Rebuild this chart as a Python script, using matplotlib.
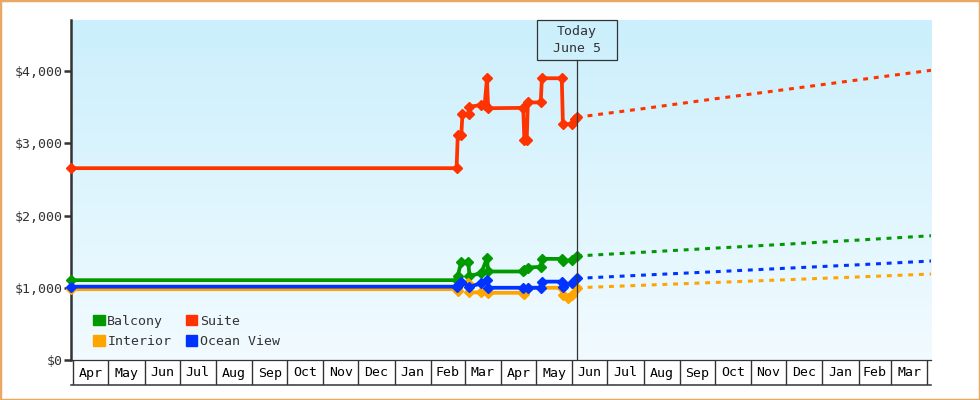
import matplotlib
matplotlib.use("Agg")
import matplotlib.pyplot as plt
import matplotlib.dates as mdates
import matplotlib.transforms as mtransforms
from matplotlib.patches import Patch, Rectangle
from matplotlib.colors import LinearSegmentedColormap
import numpy as np
import pandas as pd

plt.rcParams['font.family'] = ['DejaVu Sans Mono']

# --- data ---
suite_dates = ['2023-03-30', '2024-02-23', '2024-02-24', '2024-02-27', '2024-02-28', '2024-03-05',
               '2024-03-05', '2024-03-15', '2024-03-18', '2024-03-20', '2024-03-21', '2024-04-20',
               '2024-04-21', '2024-04-23', '2024-04-24', '2024-05-05', '2024-05-06', '2024-05-23',
               '2024-05-24', '2024-06-01', '2024-06-03', '2024-06-05']
suite_vals = [2655, 2655, 3110, 3110, 3400, 3400,
              3505, 3530, 3530, 3900, 3485, 3490,
              3040, 3040, 3565, 3565, 3900, 3900,
              3265, 3265, 3330, 3360]

balcony_dates = ['2023-03-30', '2024-02-23', '2024-02-24', '2024-02-27', '2024-03-04', '2024-03-05',
                 '2024-03-15', '2024-03-20', '2024-03-21', '2024-04-20', '2024-04-21', '2024-04-24',
                 '2024-05-05', '2024-05-06', '2024-05-23', '2024-05-24', '2024-06-01', '2024-06-05']
balcony_vals = [1105, 1105, 1165, 1360, 1360, 1165,
                1200, 1410, 1225, 1225, 1250, 1280,
                1290, 1400, 1400, 1370, 1385, 1440]

interior_dates = ['2023-03-30', '2024-02-23', '2024-02-24', '2024-02-27', '2024-03-04', '2024-03-05',
                  '2024-03-15', '2024-03-20', '2024-03-21', '2024-04-20', '2024-04-21', '2024-04-24',
                  '2024-05-23', '2024-05-24', '2024-05-28', '2024-06-01', '2024-06-05']
interior_vals = [980, 980, 960, 1060, 1060, 935,
                 935, 960, 930, 930, 910, 1000,
                 1000, 900, 855, 900, 1000]

ocean_dates = ['2023-03-30', '2024-02-23', '2024-02-24', '2024-02-27', '2024-03-05', '2024-03-15',
               '2024-03-20', '2024-03-21', '2024-04-20', '2024-04-24', '2024-05-05', '2024-05-06',
               '2024-05-23', '2024-05-24', '2024-06-01', '2024-06-05']
ocean_vals = [1015, 1015, 1040, 1085, 1015, 1060,
              1105, 1000, 1000, 1000, 1000, 1085,
              1085, 1015, 1060, 1130]

forecast_dates = ['2024-06-05', '2024-08-01', '2024-10-01', '2024-12-01', '2025-02-01', '2025-04-04']
suite_fc = [3360, 3480, 3615, 3745, 3878, 4010]
balcony_fc = [1440, 1492, 1548, 1603, 1660, 1720]
interior_fc = [1000, 1035, 1073, 1111, 1150, 1190]
ocean_fc = [1130, 1175, 1222, 1270, 1318, 1370]

month_labels = ['Apr', 'May', 'Jun', 'Jul', 'Aug', 'Sep', 'Oct', 'Nov', 'Dec', 'Jan', 'Feb', 'Mar',
                'Apr', 'May', 'Jun', 'Jul', 'Aug', 'Sep', 'Oct', 'Nov', 'Dec', 'Jan', 'Feb', 'Mar']
yticks = [0, 1000, 2000, 3000, 4000]
today = pd.Timestamp('2024-06-05')

GREEN = '#009900'
ORANGE = '#ffa500'
BLUE = '#0033ff'
RED = '#ff3300'
DARK = '#333333'

xmin = pd.Timestamp('2023-03-30')
xmax = pd.Timestamp('2025-04-04')

fig = plt.figure(figsize=(9.8, 4.0), dpi=100)
fig.patch.set_facecolor('white')
fig.add_artist(Rectangle((0, 0), 1, 1, transform=fig.transFigure, fill=False,
                         edgecolor='#e9a964', lw=2.5))

ax = fig.add_axes([71/980, 40/400, 860/980, 340/400])
bg = LinearSegmentedColormap.from_list('bg', ['#cbeffc', '#f2fbff'])
ax.imshow(np.linspace(0, 1, 256).reshape(-1, 1), cmap=bg, aspect='auto',
          extent=[0, 1, 0, 1], transform=ax.transAxes, zorder=0)

series = [
    (balcony_dates, balcony_vals, balcony_fc, GREEN),
    (interior_dates, interior_vals, interior_fc, ORANGE),
    (ocean_dates, ocean_vals, ocean_fc, BLUE),
    (suite_dates, suite_vals, suite_fc, RED),
]
for d, v, fc, c in series:
    ax.plot(pd.to_datetime(d), v, color=c, lw=2.7, marker='D', ms=5.5,
            solid_joinstyle='miter', zorder=3, clip_on=False)
    ax.plot(pd.to_datetime(forecast_dates), fc, color=c, lw=2.2,
            dashes=(1.6, 1.9), zorder=3)

ax.set_xlim(xmin, xmax)
ax.set_ylim(0, 4706)
ax.set_yticks(yticks)
ax.set_yticklabels(['$' + format(t, ',') for t in yticks])
ax.tick_params(axis='y', length=5, width=1.8, color=DARK, labelcolor=DARK,
               labelsize=9.5, pad=1)
ax.tick_params(axis='x', bottom=False, labelbottom=False)
for s in ['top', 'right']:
    ax.spines[s].set_visible(False)
ax.spines['left'].set_linewidth(1.8)
ax.spines['left'].set_color(DARK)
ax.spines['bottom'].set_linewidth(0.9)
ax.spines['bottom'].set_color(DARK)

# today marker
ax.axvline(today, ymin=0, ymax=300/340, color=DARK, lw=0.9, zorder=4)
blend = mtransforms.blended_transform_factory(ax.transData, ax.transAxes)
tnum = mdates.date2num(today)
ax.add_patch(Rectangle((tnum - 34.2, 300/340), 68.5, 40/340, transform=blend,
                       fill=False, ec=DARK, lw=0.9, zorder=4, clip_on=False))
ax.text(tnum, 320/340, 'Today\nJune 5', transform=blend, ha='center', va='center',
        fontsize=9.5, color=DARK, linespacing=1.45, zorder=5)

# legend
handles = [Patch(color=GREEN, label='Balcony'), Patch(color=ORANGE, label='Interior'),
           Patch(color=RED, label='Suite'), Patch(color=BLUE, label='Ocean View')]
ax.legend(handles=handles, ncol=2, loc='lower left', bbox_to_anchor=(0.02, 0.02),
          frameon=False, fontsize=9.5, handlelength=0.85, handleheight=0.85,
          handletextpad=0.2, columnspacing=1.1, labelspacing=0.55,
          labelcolor=DARK, borderaxespad=0)

# month boxes under the axis
ax2 = fig.add_axes([71/980, 15/400, 860/980, 25/400])
ax2.set_xlim(xmin, xmax)
ax2.set_ylim(0, 1)
ax2.patch.set_alpha(0)
for s in ['top', 'left', 'right']:
    ax2.spines[s].set_visible(False)
ax2.spines['bottom'].set_color(DARK)
ax2.spines['bottom'].set_linewidth(1.1)
ax2.set_xticks([])
ax2.set_yticks([])
starts = pd.date_range('2023-04-01', '2025-04-01', freq='MS')
for s in starts:
    ax2.axvline(s, color=DARK, lw=1.0)
for i, lab in enumerate(month_labels):
    mid = starts[i] + (starts[i + 1] - starts[i]) / 2
    ax2.text(mid, 0.48, lab, ha='center', va='center', fontsize=9.5, color='black')

fig.savefig('out.png', dpi=100)
